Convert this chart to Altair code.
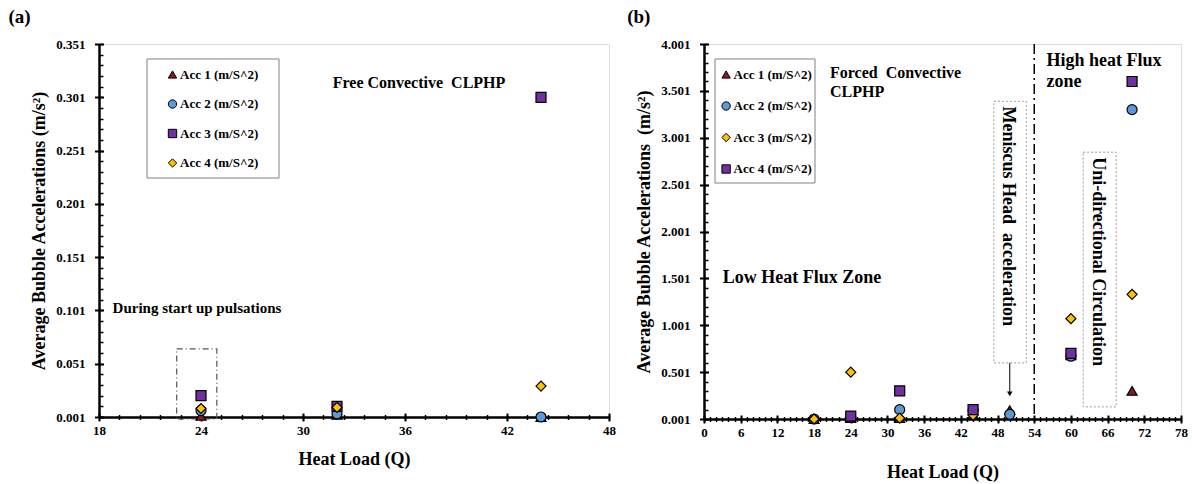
import altair as alt
import numpy as np
import pandas as pd

FONT = "Liberation Serif"
SERIES = ["Acc 1 (m/S^2)", "Acc 2 (m/S^2)", "Acc 3 (m/S^2)", "Acc 4 (m/S^2)"]

# ---- Panel (a): free convective CLPHP ----
heat_a = [24, 32, 44]
acc1_a = [0.002, 0.003, 0.001]
acc2_a = [0.007, 0.004, 0.001]
acc3_a = [0.021, 0.011, 0.301]
acc4_a = [0.009, 0.010, 0.030]

# ---- Panel (b): forced convective CLPHP ----
heat_b = [18, 24, 32, 44, 50, 60, 70]
acc1_b = [0.001, 0.011, 0.011, 0.051, 0.095, 0.681, 0.301]
acc2_b = [0.001, 0.021, 0.101, 0.091, 0.051, 0.671, 3.301]
acc3_b = [0.001, 0.501, 0.011, 0.041, None, 1.071, 1.331]
acc4_b = [None, 0.031, 0.301, 0.101, None, 0.701, 3.601]

# axis tick values
x_major_a = [18, 24, 30, 36, 42, 48]
y_major_a = [0.001, 0.051, 0.101, 0.151, 0.201, 0.251, 0.301, 0.351]
x_major_b = list(range(0, 79, 6))
y_major_b = [0.001, 0.501, 1.001, 1.501, 2.001, 2.501, 3.001, 3.501, 4.001]


def long_form(heat, cols):
    rows = []
    for name, vals in zip(SERIES, cols):
        for h, v in zip(heat, vals):
            if v is not None:
                rows.append({"heat": h, "acc": v, "series": name})
    return pd.DataFrame(rows)


df_a = long_form(heat_a, [acc1_a, acc2_a, acc3_a, acc4_a])
df_b = long_form(heat_b, [acc1_b, acc2_b, acc3_b, acc4_b])

RED, BLUE, PURPLE, GOLD = "#8B1A1A", "#5B9BD5", "#7030A0", "#FFC000"


def axis_main(title, values, fmt, label_pad, title_pad, orient, title_size):
    return alt.Axis(values=values, format=fmt, title=title, orient=orient,
                    ticks=False, grid=False, domain=True, domainColor="black",
                    domainWidth=2.5, labelFont=FONT, labelFontSize=13,
                    labelFontWeight="bold", labelColor="black",
                    labelPadding=label_pad, labelOverlap=False,
                    labelFlush=False, titleFont=FONT, titleFontSize=title_size,
                    titleFontWeight="bold", titleColor="black",
                    titlePadding=title_pad)


def axis_ticks(values, orient, size, offset, width):
    return alt.Axis(values=values, title=None, orient=orient, labels=False,
                    domain=False, grid=False, ticks=True, tickColor="black",
                    tickSize=size, offset=offset, tickWidth=width)


def panel(df, xs, ys, x_major, x_minor, y_major, y_minor, shapes, colors,
          ytitle, x_title_pad, leg_x, leg_y, row_pad, frame):
    leg = alt.Legend(title=None, orient="none", legendX=leg_x, legendY=leg_y,
                     padding=0, rowPadding=row_pad, labelOffset=1,
                     labelFont=FONT, labelFontSize=13, labelFontWeight="bold",
                     labelColor="black", symbolSize=70, symbolStrokeWidth=1)
    fill = alt.Fill("series:N", scale=alt.Scale(domain=SERIES, range=colors),
                    legend=leg)
    shape = alt.Shape("series:N", scale=alt.Scale(domain=SERIES, range=shapes),
                      legend=leg)
    stroke = alt.Stroke("series:N",
                        scale=alt.Scale(domain=SERIES, range=["black"] * 4),
                        legend=leg)
    base = alt.Chart(df)
    box = alt.Chart(alt.Data(values=[{}])).mark_rect(
        fill="white", stroke="#808080", strokeWidth=1
    ).encode(x=alt.value(frame[0]), x2=alt.value(frame[1]),
             y=alt.value(frame[2]), y2=alt.value(frame[3]))
    points = base.mark_point(filled=True, strokeWidth=1.2,
                             size=100, opacity=1).encode(
        x=alt.X("heat:Q", scale=xs,
                axis=axis_main("Heat Load (Q)", x_major, "d", 7.5, x_title_pad,
                               "bottom", 18)),
        y=alt.Y("acc:Q", scale=ys,
                axis=axis_main(ytitle, y_major, ".3f", 14, 7, "left", 18)),
        fill=fill, shape=shape, stroke=stroke,
    )
    major = base.mark_point(opacity=0).encode(
        x=alt.X("heat:Q", scale=xs, axis=axis_ticks(x_major, "bottom", 8, -4, 2)),
        y=alt.Y("acc:Q", scale=ys, axis=axis_ticks(y_major, "left", 9, -4.5, 2)),
    )
    minor = base.mark_point(opacity=0).encode(
        x=alt.X("heat:Q", scale=xs, axis=axis_ticks(x_minor, "bottom", 5, -2.5, 1.5)),
        y=alt.Y("acc:Q", scale=ys, axis=axis_ticks(y_minor, "left", 4, -4, 1.5)),
    )
    return box, points, major, minor


def text_layer(rows, xs, ys, size, angle=0, align="left"):
    d = pd.DataFrame(rows, columns=["label", "x", "y"])
    mk = dict(font=FONT, fontWeight="bold", fontSize=size, color="black",
              align=align, baseline="middle")
    if angle:
        mk["angle"] = angle
    return alt.Chart(d).mark_text(**mk).encode(
        x=alt.X("x:Q", scale=xs, axis=None),
        y=alt.Y("y:Q", scale=ys, axis=None),
        text="label:N",
    )


def box_layer(rows, xs, ys, color, dash, width):
    d = pd.DataFrame(rows, columns=["x0", "x1", "y0", "y1"])
    return alt.Chart(d).mark_rect(filled=False, stroke=color, strokeDash=dash,
                                  strokeWidth=width).encode(
        x=alt.X("x0:Q", scale=xs, axis=None), x2="x1:Q",
        y=alt.Y("y0:Q", scale=ys, axis=None), y2="y1:Q",
    )


def tag_title(tag, dx):
    return alt.TitleParams(tag, anchor="start", frame="group", dx=dx,
                           offset=2.5, baseline="middle", font=FONT,
                           fontSize=19, fontWeight="bold", color="black")


W_A, H_A = 510, 373
W_B, H_B = 477, 375

xs_a = alt.Scale(domain=[18, 48], nice=False, zero=False)
ys_a = alt.Scale(domain=[0.001, 0.351], nice=False, zero=False)
xs_b = alt.Scale(domain=[0, 78], nice=False, zero=False)
ys_b = alt.Scale(domain=[0.001, 4.001], nice=False, zero=False)

box_a, pts_a, maj_a, min_a = panel(
    df_a, xs_a, ys_a, x_major_a, [round(v, 1) for v in np.arange(18, 48.01, 1.2)],
    y_major_a, [round(v, 3) for v in np.arange(0.001, 0.3511, 0.01)],
    ["triangle-up", "circle", "square", "diamond"], [RED, BLUE, PURPLE, GOLD],
    "Average Bubble Accelerations (m/s²)", 13, 67, 24, 15.5,
    (48, 180, 15, 134))

ann_a = [
    text_layer([("Free Convective\u00a0 CLPHP", 31.75, 0.314)], xs_a, ys_a, 16),
    text_layer([("During start up pulsations", 18.8, 0.1035)], xs_a, ys_a, 15),
    box_layer([(22.57, 24.93, -0.0009, 0.065)], xs_a, ys_a, "#555555",
              [6, 3, 1, 3], 1.2),
]

chart_a = alt.layer(box_a, *ann_a, min_a, maj_a, pts_a).resolve_axis(
    x="independent", y="independent"
).properties(width=W_A, height=H_A, title=tag_title("(a)", -90.6))

box_b, pts_b, maj_b, min_b = panel(
    df_b, xs_b, ys_b, x_major_b, list(range(0, 79)),
    y_major_b, [round(v, 3) for v in np.arange(0.001, 4.0011, 0.1)],
    ["triangle-up", "circle", "diamond", "square"], [RED, BLUE, GOLD, PURPLE],
    "Average Bubble Accelerations\u00a0 (m/s²)", 24, 15.6, 24, 17.5,
    (11, 111, 15, 139))

arrow_line = alt.Chart(pd.DataFrame({"x": [50], "y0": [0.6], "y1": [0.29]})).mark_rule(
    color="black", strokeWidth=1).encode(
    x=alt.X("x:Q", scale=xs_b, axis=None),
    y=alt.Y("y0:Q", scale=ys_b, axis=None), y2="y1:Q")
arrow_head = alt.Chart(pd.DataFrame({"x": [50], "y": [0.27]})).mark_point(
    shape="triangle-down", filled=True, color="black", size=30, opacity=1).encode(
    x=alt.X("x:Q", scale=xs_b, axis=None),
    y=alt.Y("y:Q", scale=ys_b, axis=None))
zone_line = alt.Chart(pd.DataFrame({"x": [54]})).mark_rule(
    color="black", strokeWidth=1.5, strokeDash=[10, 4, 2, 4]).encode(
    x=alt.X("x:Q", scale=xs_b, axis=None))

ann_b = [
    zone_line,
    box_layer([(47.4, 52.7, 0.6, 3.39), (62.0, 67.4, 0.131, 2.847)], xs_b, ys_b,
              "#9a9a9a", [2, 2], 1),
    arrow_line, arrow_head,
    text_layer([("Forced\u00a0 Convective", 20.6, 3.696), ("CLPHP", 20.6, 3.484)],
               xs_b, ys_b, 16),
    text_layer([("High heat Flux", 56.0, 3.824), ("zone", 56.0, 3.594)],
               xs_b, ys_b, 18),
    text_layer([("Low Heat Flux Zone", 3.05, 1.50)], xs_b, ys_b, 18),
    text_layer([("Meniscus Head\u00a0 acceleration", 49.73, 2.163)], xs_b, ys_b,
               18, angle=90, align="center"),
    text_layer([("Uni-directional Circulation", 64.43, 1.68)], xs_b, ys_b,
               18, angle=90, align="center"),
]

chart_b = alt.layer(box_b, *ann_b, min_b, maj_b, pts_b).resolve_axis(
    x="independent", y="independent"
).properties(width=W_B, height=H_B, title=tag_title("(b)", -76.8))

chart = alt.hconcat(chart_a, chart_b, spacing=10).resolve_scale(
    fill="independent", shape="independent", stroke="independent"
).resolve_legend(
    fill="independent", shape="independent", stroke="independent"
).properties(
    padding={"left": 7, "top": 7, "right": 0, "bottom": 0}
).configure_view(stroke="black", strokeWidth=2).configure(background="white")

chart.save("out.html", embed_options={"renderer": "svg", "actions": False})
